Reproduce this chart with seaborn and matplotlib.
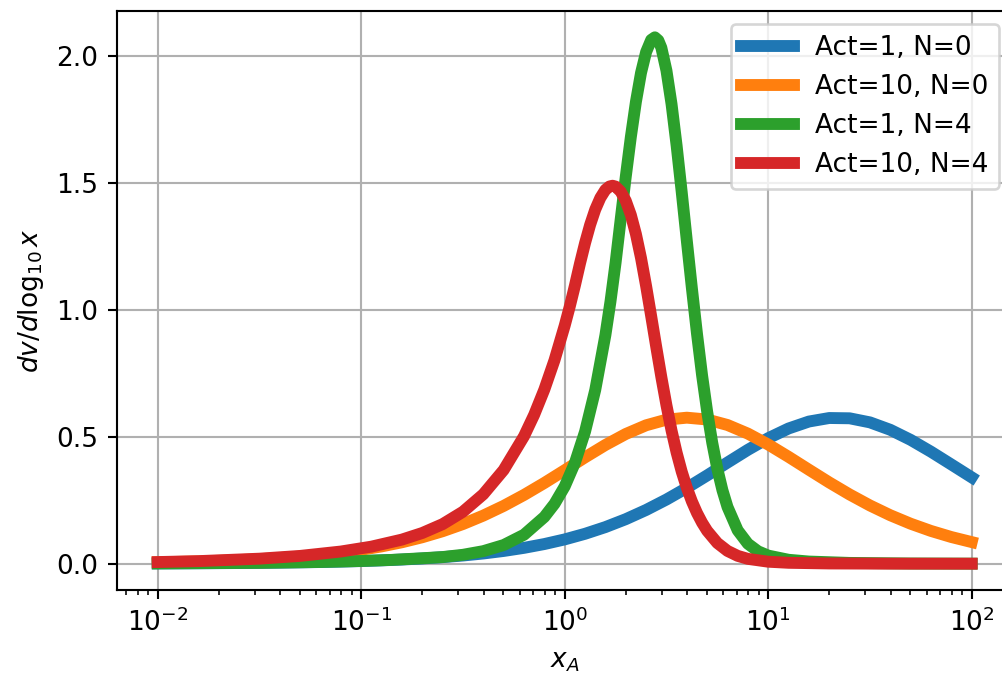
import numpy as np
import pandas as pd
import matplotlib
matplotlib.use("Agg")
import matplotlib.pyplot as plt
import seaborn as sns

# ---- data: log10(x_A) positions and dv/dlog10x values ----
labels = ["Act=1, N=0", "Act=10, N=0", "Act=1, N=4", "Act=10, N=4"]
colors = ["#1f77b4", "#ff7f0e", "#2ca02c", "#d62728"]

grid_logx = [-2.0, -1.9, -1.8, -1.7, -1.6, -1.5, -1.4, -1.3, -1.2, -1.1, -1.0,
             -0.9, -0.8, -0.7, -0.6, -0.5, -0.4, -0.3, -0.2, -0.1, 0.0,
             0.1, 0.2, 0.3, 0.4, 0.5, 0.6, 0.7, 0.8, 0.9, 1.0,
             1.1, 1.2, 1.3, 1.4, 1.5, 1.6, 1.7, 1.8, 1.9, 2.0]

blue_y = [0.00105, 0.00132, 0.00166, 0.00208, 0.00262, 0.0033, 0.00415, 0.00522,
          0.00657, 0.00825, 0.01037, 0.01303, 0.01635, 0.02051, 0.0257, 0.03217,
          0.0402, 0.05014, 0.06241, 0.07744, 0.09576, 0.1179, 0.1443, 0.1755,
          0.2118, 0.2530, 0.2988, 0.3480, 0.3988, 0.4488, 0.4947, 0.5330, 0.5604,
          0.5743, 0.5732, 0.5571, 0.5278, 0.4881, 0.4414, 0.3911, 0.3404]

orange_y = [0.00573, 0.0072, 0.00905, 0.01137, 0.01428, 0.01792, 0.02247, 0.02814,
            0.0352, 0.04396, 0.05479, 0.06812, 0.08441, 0.1042, 0.128, 0.1563,
            0.1896, 0.2278, 0.271, 0.3183, 0.3684, 0.4193, 0.468, 0.5113, 0.5456,
            0.5678, 0.5756, 0.5684, 0.5468, 0.5129, 0.4699, 0.4213, 0.3705, 0.3203,
            0.2729, 0.2295, 0.191, 0.1576, 0.1291, 0.1051, 0.0852]

green_logx = [-2.0, -1.5, -1.2, -1.0, -0.85, -0.7, -0.6, -0.5, -0.4, -0.3,
              -0.2, -0.1, -0.05, 0.0, 0.05, 0.1, 0.15, 0.2, 0.225, 0.25,
              0.275, 0.3, 0.325, 0.35, 0.375, 0.4, 0.425, 0.443, 0.46, 0.475,
              0.5, 0.525, 0.55, 0.575, 0.6, 0.625, 0.65, 0.675, 0.7, 0.725,
              0.75, 0.775, 0.8, 0.85, 0.9, 0.95, 1.0, 1.1, 1.2, 1.4, 1.7, 2.0]
green_y = [0.00107, 0.0034, 0.0068, 0.0107, 0.0150, 0.0215, 0.0262, 0.0351, 0.0495, 0.0735,
           0.1141, 0.1843, 0.2361, 0.3046, 0.3971, 0.5207, 0.6845, 0.901, 1.034, 1.186,
           1.357, 1.525, 1.682, 1.821, 1.935, 2.017, 2.065, 2.075, 2.063, 2.034,
           1.944, 1.812, 1.648, 1.465, 1.274, 1.086, 0.907, 0.743, 0.600, 0.477,
           0.374, 0.290, 0.2236, 0.1316, 0.0787, 0.0489, 0.0320, 0.0155, 0.0085, 0.0031,
           0.0008, 0.0002]

red_logx = [-2.0, -1.8, -1.5, -1.3, -1.1, -0.95, -0.8, -0.7, -0.6, -0.5, -0.4, -0.3,
            -0.2, -0.15, -0.1, -0.05, 0.0, 0.025, 0.05, 0.075, 0.1, 0.125, 0.15, 0.175,
            0.2, 0.22, 0.235, 0.25, 0.275, 0.3, 0.325, 0.35, 0.375, 0.4,
            0.425, 0.45, 0.475, 0.5, 0.525, 0.55, 0.575, 0.6, 0.625, 0.65,
            0.675, 0.7, 0.75, 0.8, 0.85, 0.9, 1.0, 1.1, 1.3, 1.6, 2.0]
red_y = [0.00645, 0.0101, 0.0198, 0.0307, 0.048, 0.0672, 0.0950, 0.1210, 0.1559, 0.2048,
         0.2737, 0.3694, 0.5024, 0.5872, 0.6867, 0.8026, 0.9386, 1.0142, 1.0959, 1.183,
         1.264, 1.336, 1.396, 1.442, 1.474, 1.487, 1.49, 1.4867, 1.467, 1.4308,
         1.375, 1.2994, 1.205, 1.0948, 0.9756, 0.8537, 0.7352, 0.6246, 0.5249, 0.4379,
         0.3630, 0.2995, 0.2456, 0.2000, 0.1617, 0.1296, 0.0816, 0.0504, 0.0309, 0.0191,
         0.0078, 0.0035, 0.0009, 0.00017, 0.00003]

series = [(grid_logx, blue_y), (grid_logx, orange_y),
          (green_logx, green_y), (red_logx, red_y)]

# ---- figure ----
DPI = 190
fig = plt.figure(figsize=(1002 / DPI, 689 / DPI), dpi=DPI)
ax = fig.add_axes([117 / 1002, 99 / 689, (1011.7 - 116.3) / 1002, 579 / 689])

for (lx, yv), lab, col in zip(series, labels, colors):
    df = pd.DataFrame({"x": np.power(10.0, lx), "y": yv})
    sns.lineplot(data=df, x="x", y="y", ax=ax, color=col, lw=4.5,
                 label=lab, estimator=None, sort=True)

for ln in ax.get_lines():
    ln.set_solid_joinstyle("round")

ax.set_xscale("log")
ax.set_xlim(10 ** -2.2, 10 ** 2.2)
ax.set_ylim(-0.1037, 2.1788)
ax.grid(True)
ax.set_xlabel(r"$x_A$")
ax.set_ylabel(r"$dv/d\log_{10}x$")
ax.legend(loc="upper right")

fig.savefig("out.png", dpi=DPI)
